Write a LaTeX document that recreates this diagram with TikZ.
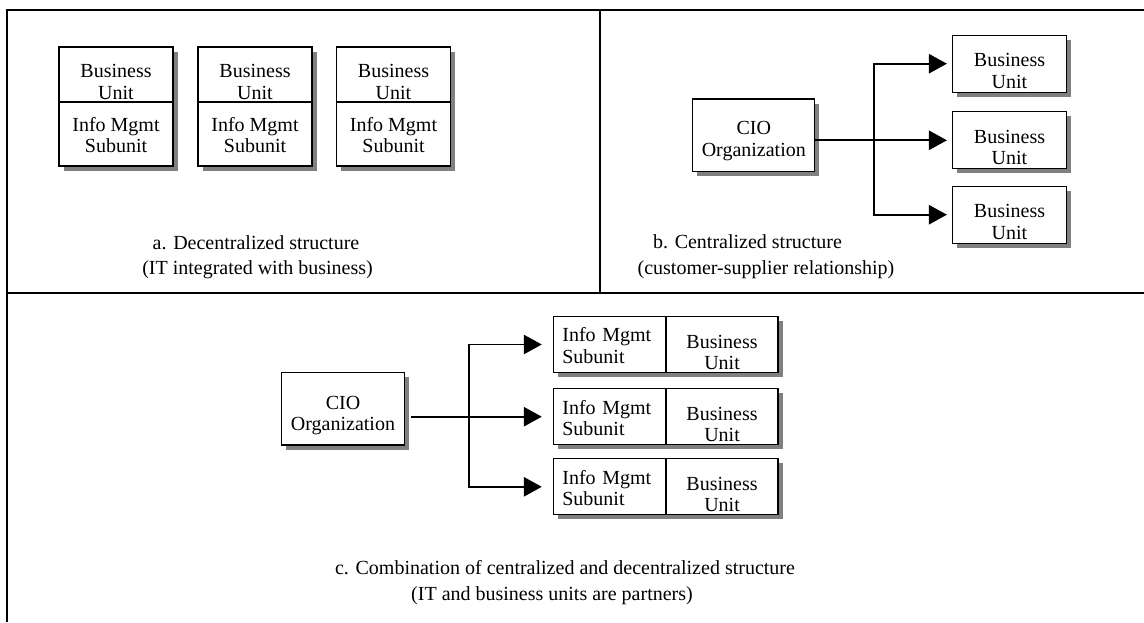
\documentclass[tikz,border=0pt]{standalone}
\usepackage{amsmath}
\usepackage{xcolor}
\usepackage{fontspec}
\setmainfont{Liberation Serif}
\usepackage{tikz}
\usetikzlibrary{arrows.meta,shadows}
\definecolor{shade}{RGB}{128,128,128}
% pushes a two-line label down inside its box
\newcommand{\txtdrop}[1]{\rule{0pt}{#1}}

\begin{document}
\begin{tikzpicture}[x=0.75pt,y=0.75pt,yscale=-1,xscale=1,
  box/.style={draw, line width=0.9pt, fill=white, inner sep=0pt, outer sep=0pt, align=center,
    font=\fontsize{15}{16}\selectfont,
    drop shadow={shadow xshift=3.5pt, shadow yshift=-3.5pt, fill=shade, opacity=1}},
  link/.style={line width=1.3pt, -{Triangle[length=13.5pt,width=14.5pt]}},
  caption/.style={inner sep=0pt, font=\fontsize{15}{17}\selectfont}]
\useasboundingbox (0,0) rectangle (1144,622);

%Straight Lines [frame]
\draw[line width=1.6pt] (7,622) -- (7,10) -- (1144,10);
\draw[line width=1.6pt] (7,293) -- (1144,293);
\draw[line width=1.2pt] (600,10) -- (600,293);

%Shape: Box [a. decentralized]
\node[box, minimum width=85.5pt, minimum height=41.25pt] (bua1) at (116,74.5) {\txtdrop{21.1pt}Business\\Unit};
\node[box, minimum width=85.5pt, minimum height=48pt, anchor=north] (ima1) at (bua1.south) {\txtdrop{12.4pt}Info Mgmt\\Subunit};
\node[box, minimum width=85.5pt, minimum height=41.25pt] (bua2) at (255,74.5) {\txtdrop{21.1pt}Business\\Unit};
\node[box, minimum width=85.5pt, minimum height=48pt, anchor=north] (ima2) at (bua2.south) {\txtdrop{12.4pt}Info Mgmt\\Subunit};
\node[box, minimum width=85.5pt, minimum height=41.25pt] (bua3) at (393.5,74.5) {\txtdrop{21.1pt}Business\\Unit};
\node[box, minimum width=85.5pt, minimum height=48pt, anchor=north] (ima3) at (bua3.south) {\txtdrop{12.4pt}Info Mgmt\\Subunit};

% Text Node
\node[caption] (capa1) at (256,243) {a. Decentralized structure};
% Text Node
\node[caption] (capa2) at (257.5,270) {(IT integrated with business)};

%Shape: Box [b. centralized]
\node[box, minimum width=91.5pt, minimum height=54.5pt] (ciob) at (753.8,135.3) {\txtdrop{18.5pt}CIO\\Organization};
\node[box, minimum width=85.5pt, minimum height=42.75pt] (bub1) at (1009.5,63.7) {\txtdrop{20.6pt}Business\\Unit};
\node[box, minimum width=85.5pt, minimum height=42.75pt] (bub2) at (1009.5,140.3) {\txtdrop{20.6pt}Business\\Unit};
\node[box, minimum width=85.5pt, minimum height=42.75pt] (bub3) at (1009.5,214.7) {\txtdrop{20.6pt}Business\\Unit};

%Straight Lines [b. arrows]
\coordinate (forkb) at (874.3,140.7);
\draw[link, shorten >=4.2pt] (ciob.east |- bub2.west) -- (bub2.west);
\draw[link, shorten >=4.2pt] (forkb) |- (bub1.west);
\draw[link, shorten >=4.2pt] (forkb) |- (bub3.west);

% Text Node
\node[caption] (capb1) at (747.5,241.7) {b. Centralized structure};
% Text Node
\node[caption] (capb2) at (766,270) {(customer-supplier relationship)};

%Shape: Box [c. combination]
\node[box, minimum width=92pt, minimum height=54.2pt] (cioc) at (343,408.8) {\txtdrop{20.5pt}CIO\\Organization};
\node[box, align=left, text width=71pt, minimum width=84.5pt, minimum height=42pt] (imc1) at (609.7,344.5) {\txtdrop{12.2pt}Info Mgmt\\Subunit};
\node[box, minimum width=84pt, minimum height=42pt, anchor=west] (buc1) at (imc1.east) {\txtdrop{21.5pt}Business\\Unit};
\node[box, align=left, text width=71pt, minimum width=84.5pt, minimum height=42pt] (imc2) at (609.7,416.7) {\txtdrop{12.2pt}Info Mgmt\\Subunit};
\node[box, minimum width=84pt, minimum height=42pt, anchor=west] (buc2) at (imc2.east) {\txtdrop{21.5pt}Business\\Unit};
\node[box, align=left, text width=71pt, minimum width=84.5pt, minimum height=42pt] (imc3) at (609.7,486.8) {\txtdrop{12.2pt}Info Mgmt\\Subunit};
\node[box, minimum width=84pt, minimum height=42pt, anchor=west] (buc3) at (imc3.east) {\txtdrop{21.5pt}Business\\Unit};

%Straight Lines [c. arrows]
\coordinate (forkc) at (469.3,415.7);
\draw[link, shorten <=5pt, shorten >=8.7pt] (cioc.east |- imc2.west) -- (imc2.west);
\draw[link, shorten >=8.7pt] (forkc) |- (imc1.west);
\draw[link, shorten >=8.7pt] (forkc) |- (imc3.west);

% Text Node
\node[caption] (capc1) at (565,568) {c. Combination of centralized and decentralized structure};
% Text Node
\node[caption] (capc2) at (552,596) {(IT and business units are partners)};

\end{tikzpicture}
\end{document}
